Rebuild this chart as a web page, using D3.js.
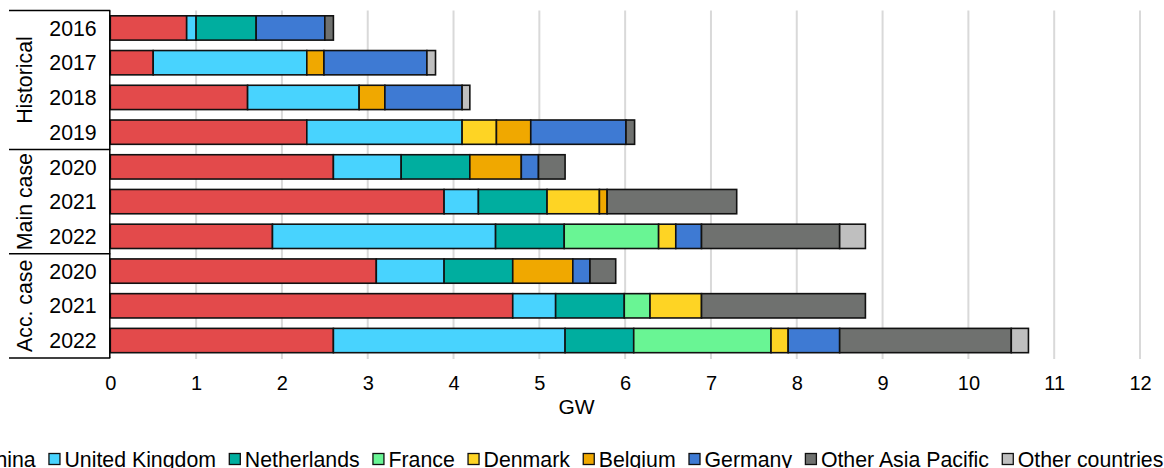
<!DOCTYPE html>
<html>
<head>
<meta charset="utf-8">
<script src="https://cdn.jsdelivr.net/npm/d3@7"></script>
<style>
  html, body { margin: 0; padding: 0; background: #fff; overflow: hidden; }
  svg { display: block; font-family: "Liberation Sans", Arial, sans-serif; }
</style>
</head>
<body>
<svg id="chart" width="1164" height="468"></svg>
<script>
// ---- data ----
const groups = ["Historical", "Main case", "Acc. case"];
const groupSizes = [4, 3, 3];
const years = ["2016", "2017", "2018", "2019", "2020", "2021", "2022", "2020", "2021", "2022"];
const seriesNames = ["China", "United Kingdom", "Netherlands", "France", "Denmark", "Belgium", "Germany", "Other Asia Pacific", "Other countries"];
const seriesColors = ["#e34a4b", "#48d3fe", "#00ae9f", "#69f594", "#fed424", "#f0a800", "#3e7ad3", "#6f716f", "#bfbfbf"];
// values (GW) per series, one entry per row (same order as years)
const china      = [0.89, 0.50, 1.60, 2.29, 2.60, 3.89, 1.89, 3.10, 4.69, 2.60];
const uk         = [0.11, 1.79, 1.30, 1.81, 0.79, 0.40, 2.60, 0.79, 0.50, 2.70];
const netherlands= [0.70, 0,    0,    0,    0.80, 0.80, 0.80, 0.80, 0.80, 0.80];
const france     = [0,    0,    0,    0,    0,    0,    1.10, 0,    0.30, 1.60];
const denmark    = [0,    0,    0,    0.40, 0,    0.61, 0.20, 0,    0.60, 0.20];
const belgium    = [0,    0.20, 0.30, 0.40, 0.60, 0.09, 0,    0.70, 0,    0];
const germany    = [0.80, 1.20, 0.90, 1.11, 0.20, 0,    0.30, 0.20, 0,    0.60];
const otherAP    = [0.10, 0,    0,    0.10, 0.31, 1.51, 1.61, 0.30, 1.91, 2.00];
const otherCtry  = [0,    0.10, 0.09, 0,    0,    0,    0.30, 0,    0,    0.20];
const seriesValues = [china, uk, netherlands, france, denmark, belgium, germany, otherAP, otherCtry];
const xTicks = [0, 1, 2, 3, 4, 5, 6, 7, 8, 9, 10, 11, 12];
const xTitle = "GW";

// ---- layout ----
const svg = d3.select("#chart");
const plotLeft = 110.3, plotRight = 1140, plotTop = 10.6, plotBottom = 357.9;
const x = d3.scaleLinear().domain([0, 12]).range([plotLeft, plotRight]);
const rowIdx = d3.range(years.length);
const y = d3.scaleBand().domain(rowIdx).range([plotTop, plotBottom]).paddingInner(0.3).paddingOuter(0.15);

// gridlines
svg.append("g").selectAll("line").data(xTicks.filter(d => d > 0)).join("line")
  .attr("x1", d => x(d)).attr("x2", d => x(d))
  .attr("y1", plotTop).attr("y2", plotBottom + 1)
  .attr("stroke", "#d9d9d9").attr("stroke-width", 2);

// stacked bars
const rows = rowIdx.map(i => {
  const o = { i };
  seriesNames.forEach((s, k) => o[s] = seriesValues[k][i]);
  return o;
});
const stack = d3.stack().keys(seriesNames)(rows);
const color = d3.scaleOrdinal().domain(seriesNames).range(seriesColors);
svg.append("g").selectAll("g").data(stack).join("g")
  .attr("fill", d => color(d.key))
  .selectAll("rect").data(d => d.filter(p => p[1] - p[0] > 0)).join("rect")
  .attr("x", d => x(d[0]))
  .attr("width", d => x(d[1]) - x(d[0]))
  .attr("y", d => y(d.data.i))
  .attr("height", y.bandwidth())
  .attr("stroke", "#111").attr("stroke-width", 1.6);

// x axis tick labels
const axis = d3.axisBottom(x).tickValues(xTicks).tickSize(0).tickFormat(d3.format("d"));
const ax = svg.append("g").attr("transform", `translate(0,${plotBottom})`).call(axis);
ax.select(".domain").remove();
ax.selectAll("text").attr("font-size", 20).attr("fill", "#000")
  .attr("font-family", "Liberation Sans, Arial, sans-serif")
  .attr("dy", null).attr("y", 32);
svg.append("text").attr("x", 576.5).attr("y", 414).attr("text-anchor", "middle")
  .attr("font-size", 21).attr("fill", "#000").text(xTitle);

// category table on the left
const tbl = svg.append("g").attr("stroke", "#000").attr("stroke-width", 1.5);
tbl.append("line").attr("x1", plotLeft - 0.5).attr("x2", plotLeft - 0.5).attr("y1", plotTop).attr("y2", plotBottom);
let cum = 0;
const bounds = [plotTop];
groupSizes.forEach(n => { cum += n; bounds.push(plotTop + (plotBottom - plotTop) * cum / years.length); });
bounds.forEach(b => tbl.append("line").attr("x1", 9).attr("x2", plotLeft).attr("y1", b).attr("y2", b));

svg.append("g").selectAll("text").data(years).join("text")
  .attr("x", 73).attr("y", (d, i) => y(i) + y.bandwidth() / 2)
  .attr("dy", "0.36em").attr("text-anchor", "middle")
  .attr("font-size", 21.3).attr("fill", "#000").text(d => d);

svg.append("g").selectAll("text").data(groups).join("text")
  .attr("transform", (d, i) => `translate(32,${(bounds[i] + bounds[i + 1]) / 2}) rotate(-90)`)
  .attr("text-anchor", "middle").attr("font-size", 21.3).attr("fill", "#000").text(d => d);

// legend
const leg = svg.append("g");
let lx = -36;
const baseline = 466.5;
seriesNames.forEach((s, k) => {
  leg.append("rect").attr("x", lx + 0.5).attr("y", baseline - 13).attr("width", 11).attr("height", 11)
    .attr("fill", seriesColors[k]).attr("stroke", "#111").attr("stroke-width", 1.3);
  const t = leg.append("text").attr("x", lx + 16).attr("y", baseline)
    .attr("font-size", 21.3).attr("fill", "#000").text(s);
  const w = t.node().getComputedTextLength();
  lx = lx + 16 + w + 12.8;
});
</script>
</body>
</html>
